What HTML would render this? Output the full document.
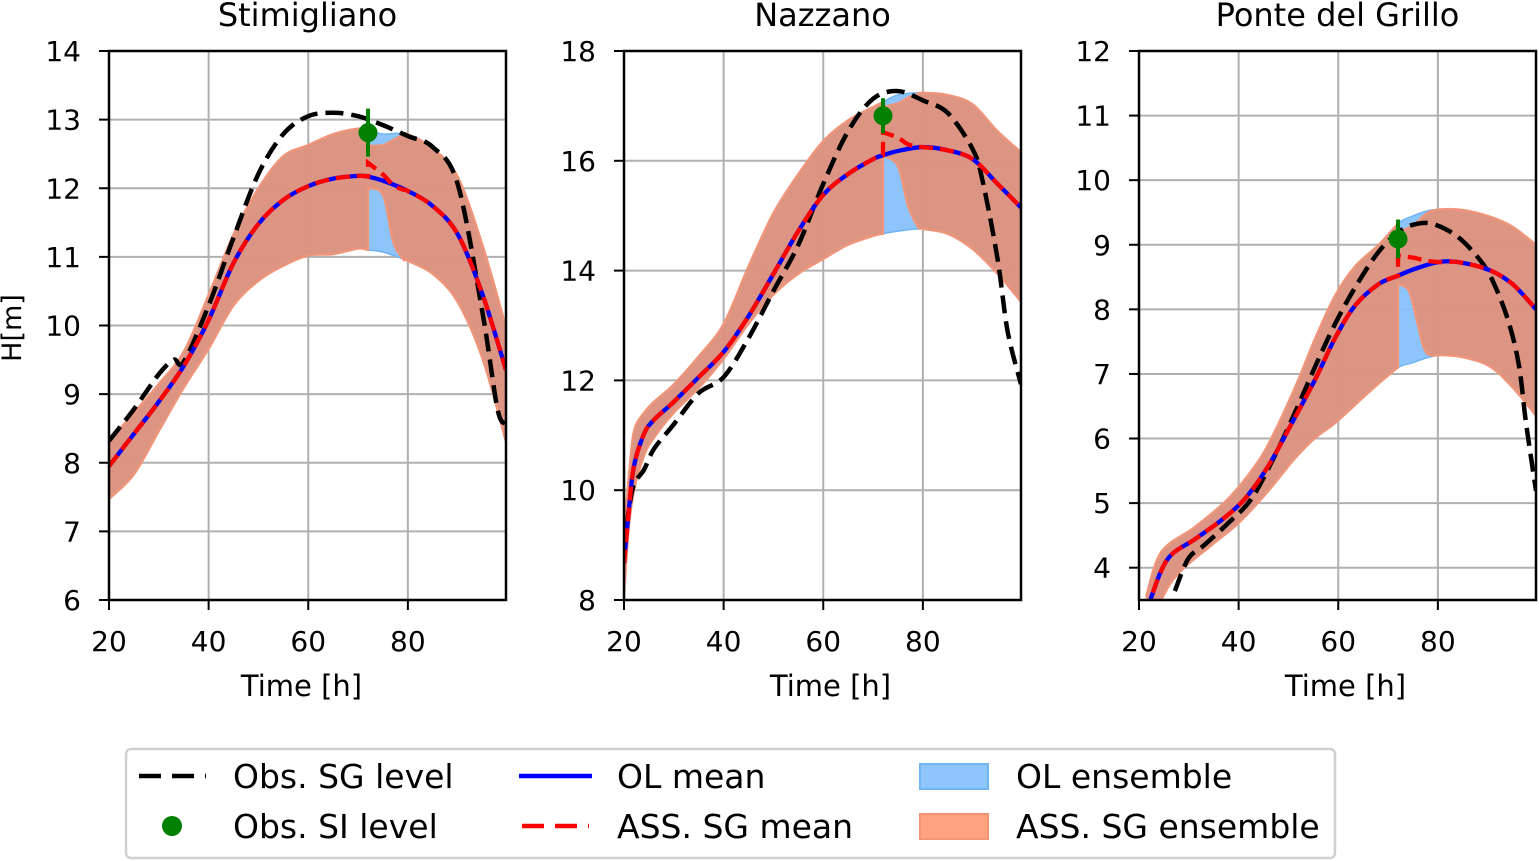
<!DOCTYPE html>
<html><head><meta charset="utf-8">
<style>
html,body{margin:0;padding:0;background:#fff;}
svg{display:block;font-family:"DejaVu Sans","Liberation Sans",sans-serif;}
</style></head>
<body>
<svg id="fig" width="1539" height="861" viewBox="0 0 1539 861" xmlns="http://www.w3.org/2000/svg">
<g id="panels"></g>
<text x="21" y="328" font-size="27" text-anchor="middle" transform="rotate(-90 21 328)">H[m]</text>
<g>
  <rect x="126" y="749" width="1209" height="109" rx="5" fill="#fff" stroke="#d0d0d0" stroke-width="2.5"/>
  <g>
    <line x1="139" y1="776" x2="206" y2="776" stroke="#000" stroke-width="4.5" stroke-dasharray="22 11"/>
    <text x="233" y="788" font-size="33">Obs. SG level</text>
  </g>
  <g>
    <circle cx="172" cy="826" r="10" fill="#008000"/>
    <text x="233" y="838" font-size="33">Obs. SI level</text>
  </g>
  <g>
    <line x1="519" y1="776" x2="592" y2="776" stroke="#0000ff" stroke-width="4.5"/>
    <text x="617" y="788" font-size="33">OL mean</text>
  </g>
  <g>
    <line x1="522" y1="826" x2="589" y2="826" stroke="#ff0000" stroke-width="4.5" stroke-dasharray="22 11"/>
    <text x="617" y="838" font-size="33">ASS. SG mean</text>
  </g>
  <g>
    <rect x="920" y="764" width="68" height="25" fill="#8ec5fb" stroke="#70b5f5" stroke-width="2"/>
    <text x="1016" y="788" font-size="33">OL ensemble</text>
  </g>
  <g>
    <rect x="920" y="814" width="68" height="25" fill="#ffa37f" stroke="#f39474" stroke-width="2"/>
    <text x="1016" y="838" font-size="33">ASS. SG ensemble</text>
  </g>
</g>
</svg>
<script>
// ---------------- Panel 1: Stimigliano ----------------
const p1_olT   = [20,25,30,35,40,45,50,55,60,65,70,72,75,80,85,90,95,99.7];
const p1_olMean= [7.95,8.42,8.89,9.41,10.08,10.91,11.48,11.83,12.03,12.14,12.18,12.17,12.11,11.96,11.74,11.33,10.45,9.35];
const p1_olUp  = [8.32,8.73,9.15,9.62,10.45,11.33,12.0,12.47,12.63,12.79,12.87,12.85,12.79,12.79,12.58,12.17,11.17,9.98];
const p1_olLo  = [7.47,7.83,8.46,9.09,9.66,10.29,10.65,10.87,11.02,11.04,11.12,11.1,11.07,10.94,10.75,10.34,9.51,8.3];
const p1_assT  = [72,75,77,79,80];
const p1_assMean=[12.37,12.2,12.05,11.98,11.96];
const p1_assUp = [12.62,12.63,12.7,12.78,12.79];
const p1_assLo = [12.0,11.9,11.23,10.97,10.94];
const p1_obsT  = [20,25,30,33,35,40,45,50,55,60,65,70,75,80,85,90,95,98,99.7];
const p1_obs   = [8.32,8.78,9.29,9.5,9.47,10.29,11.28,12.21,12.79,13.05,13.1,13.05,12.92,12.76,12.6,12.06,10.18,8.78,8.57];
const p1_si    = [72,12.81,0.35];

// ---------------- Panel 2: Nazzano ----------------
const p2_olT   = [20,21,22,24,26,30,35,40,45,50,55,60,65,70,72,75,80,85,90,95,99.7];
const p2_olMean= [8.67,9.66,10.44,11.02,11.28,11.61,12.06,12.52,13.17,13.94,14.72,15.38,15.76,16.03,16.1,16.18,16.25,16.19,16.03,15.58,15.15];
const p2_olUp  = [9.3,10.3,11.08,11.41,11.61,11.93,12.44,13.03,14.08,15.05,15.76,16.36,16.74,16.98,17.07,17.2,17.24,17.2,17.03,16.54,16.16];
const p2_olLo  = [8.09,9.33,9.98,10.62,10.95,11.41,11.86,12.39,13.03,13.56,13.94,14.21,14.47,14.63,14.67,14.72,14.76,14.67,14.39,13.94,13.43];
const p2_assT  = [72,75,77,79,80];
const p2_assMean=[16.52,16.42,16.3,16.26,16.25];
const p2_assUp = [16.98,17.05,17.15,17.22,17.24];
const p2_assLo = [16.09,15.9,15.18,14.8,14.76];
const p2_obsT  = [20.5,21,22,24,26,30,35,40,45,50,55,60,65,70,75,80,85,90,92,95,97,99.7];
const p2_obs   = [9.3,9.66,10.11,10.37,10.75,11.2,11.77,12.06,12.77,13.63,14.47,15.58,16.54,17.13,17.27,17.1,16.87,16.21,15.63,14.21,12.9,11.93];
const p2_si    = [72,16.82,0.32];

// ---------------- Panel 3: Ponte del Grillo ----------------
const p3_meanT = [21.8,22.5,25.8,31.2,36.6,41.3,46,50.7,55.4,59.4,63.4,68.1,72,74.8,79.9,84.2,90.3,95,99.7];
const p3_olMean= [3.3,3.55,4.14,4.44,4.74,5.07,5.58,6.24,6.92,7.56,8.06,8.39,8.52,8.61,8.73,8.73,8.61,8.39,8.0];
const p3_upT   = [21.5,24.5,31.2,37.9,43.3,46.6,51.3,55.4,59.4,63.4,68.1,72,74.8,78.2,80.9,84.9,90.3,95,99.7];
const p3_olUp  = [3.58,4.25,4.63,5.07,5.58,6.01,6.79,7.56,8.22,8.67,9.0,9.33,9.44,9.53,9.55,9.54,9.44,9.28,9.0];
const p3_loT   = [22,24.5,27.9,34.6,40,46,51.3,55.4,59.4,64.8,68.1,72,74.8,78.2,80.9,84.9,90.3,95,99.7];
const p3_olLo  = [3.0,3.5,3.91,4.35,4.69,5.19,5.69,6.01,6.24,6.62,6.85,7.1,7.17,7.26,7.29,7.26,7.12,6.79,6.35];
const p3_assT  = [72,75,78,80.9];
const p3_assMean=[8.83,8.8,8.75,8.73];
const p3_assUp = [9.2,9.3,9.5,9.55];
const p3_assLoT= [72,74.2,75.9,77.2,78.5,80.9];
const p3_assLo = [8.39,8.28,7.78,7.4,7.29,7.29];
const p3_obsT  = [27.2,29.9,33.1,37.9,42.6,47.3,51.3,55.4,59.4,63.4,68.1,72.5,76.2,79.5,84.2,88.9,91.6,94.3,96.3,97.7,99.7];
const p3_obs   = [3.64,4.14,4.35,4.69,5.07,5.74,6.4,7.12,7.78,8.34,8.89,9.22,9.33,9.31,9.11,8.72,8.34,7.78,7.12,6.24,5.19];
const p3_si    = [72,9.09,0.3];

const xTicks = [20,40,60,80];
const p1_yTicks = [6,7,8,9,10,11,12,13,14];
const p2_yTicks = [8,10,12,14,16,18];
const p3_yTicks = [4,5,6,7,8,9,10,11,12];
const titles = ["Stimigliano","Nazzano","Ponte del Grillo"];

const NS="http://www.w3.org/2000/svg";
const root=document.getElementById('panels');
function mk(tag,attrs,parent){const e=document.createElementNS(NS,tag);for(const k in attrs)e.setAttribute(k,attrs[k]);(parent||root).appendChild(e);return e;}
function zip(T,V){return T.map((t,i)=>[t,V[i]]);}
function crPath(pts,start){
  let d=(start||'M')+pts[0][0].toFixed(2)+','+pts[0][1].toFixed(2);
  for(let i=0;i<pts.length-1;i++){
    const p0=pts[Math.max(0,i-1)],p1=pts[i],p2=pts[i+1],p3=pts[Math.min(pts.length-1,i+2)];
    const c1=[p1[0]+(p2[0]-p0[0])/6,p1[1]+(p2[1]-p0[1])/6];
    const c2=[p2[0]-(p3[0]-p1[0])/6,p2[1]-(p3[1]-p1[1])/6];
    d+=' C'+c1[0].toFixed(2)+','+c1[1].toFixed(2)+' '+c2[0].toFixed(2)+','+c2[1].toFixed(2)+' '+p2[0].toFixed(2)+','+p2[1].toFixed(2);
  }
  return d;
}
function assSegments(olPts,assPts){
  const pre=olPts.filter(p=>p[0]<=assPts[0][0]);
  const end=assPts[assPts.length-1][0];
  const post=assPts.concat(olPts.filter(p=>p[0]>end));
  return [pre,post];
}

function panel(idx,cfg){
  const g=mk('g',{});
  
  
  const x0=cfg.x0,x1=cfg.x0+397,y0=51,y1=600,xmin=20,xmax=99.7;
  const sx=t=>x0+(t-xmin)/(xmax-xmin)*(x1-x0);
  const sy=v=>y1-(v-cfg.ymin)/(cfg.ymax-cfg.ymin)*(y1-y0);
  const px=pts=>pts.map(p=>[sx(p[0]),sy(p[1])]);
  const cid='clip'+idx;
  const defs=mk('defs',{},g);
  const cp=mk('clipPath',{id:cid},defs);
  mk('rect',{x:x0,y:y0,width:x1-x0,height:y1-y0},cp);
  const grid=mk('g',{},g);
  
  
  xTicks.forEach(t=>mk('line',{x1:sx(t),x2:sx(t),y1:y0,y2:y1,stroke:'#b0b0b0','stroke-width':2},grid));
  cfg.yTicks.forEach(v=>mk('line',{x1:x0,x2:x1,y1:sy(v),y2:sy(v),stroke:'#b0b0b0','stroke-width':2},grid));
  const data=mk('g',{'clip-path':'url(#'+cid+')'},g);
  const up=zip(cfg.upT,cfg.olUp), lo=zip(cfg.loT,cfg.olLo);
  const olBand=mk('path',{d:crPath(px(up))+' '+crPath(px(lo).reverse(),'L')+' Z',fill:'rgb(135,194,250)','fill-opacity':0.95,stroke:'#6fb3f3','stroke-width':1.5},data);
  
  
  const [uPre,uPost]=assSegments(up,zip(cfg.assT,cfg.assUp));
  const [lPre,lPost]=assSegments(lo,zip(cfg.assLoT,cfg.assLo));
  const dA=crPath(px(uPre))+' '+crPath(px(uPost),'L')+' '+crPath(px(lPost).reverse(),'L')+' '+crPath(px(lPre).reverse(),'L')+' Z';
  const assBand=mk('path',{d:dA,fill:'rgb(240,136,101)','fill-opacity':0.8,stroke:'#f0957a','stroke-width':2.2},data);
  
  
  const obs=mk('path',{d:crPath(px(zip(cfg.obsT,cfg.obs))),fill:'none',stroke:'#000','stroke-width':4.5,'stroke-dasharray':'18 8'},data);
  
  
  const mean=zip(cfg.meanT,cfg.olMean);
  const olm=mk('path',{d:crPath(px(mean)),fill:'none',stroke:'#0000ff','stroke-width':4.3},data);
  
  
  const [mPre,mPost]=assSegments(mean,zip(cfg.assT,cfg.assMean));
  const am=mk('path',{d:crPath(px(mPre))+' '+crPath(px(mPost),'L'),fill:'none',stroke:'#ff0000','stroke-width':4.3,'stroke-dasharray':'14 7'},data);
  
  
  const si=cfg.si;
  const eb=mk('line',{x1:sx(si[0]),x2:sx(si[0]),y1:sy(si[1]+si[2]),y2:sy(si[1]-si[2]),stroke:'#008000','stroke-width':4},g);
  
  
  const dot=mk('circle',{cx:sx(si[0]),cy:sy(si[1]),r:9.5,fill:'#008000'},g);
  
  
  const fr=mk('rect',{x:x0,y:y0,width:x1-x0,height:y1-y0,fill:'none',stroke:'#000','stroke-width':2.5},g);
  
  
  xTicks.forEach(t=>{
    mk('line',{x1:sx(t),x2:sx(t),y1:y1,y2:y1+10,stroke:'#000','stroke-width':2},g);
    const tx=mk('text',{x:sx(t),y:y1+51,'font-size':28,'text-anchor':'middle'},g);
    tx.textContent=t;
    
    
  });
  cfg.yTicks.forEach(v=>{
    mk('line',{x1:x0-10,x2:x0,y1:sy(v),y2:sy(v),stroke:'#000','stroke-width':2},g);
    const ty=mk('text',{x:x0-28,y:sy(v)+10,'font-size':28,'text-anchor':'end'},g);
    ty.textContent=v;
    
    
  });
  const xl=mk('text',{x:(x0+x1)/2+cfg.xlOff,y:696,'font-size':29,'text-anchor':'middle'},g);
  xl.textContent='Time [h]';
  
  
  const tt=mk('text',{x:(x0+x1)/2,y:26,'font-size':32,'text-anchor':'middle'},g);
  tt.textContent=titles[idx];
  
  
}

panel(0,{x0:109,xlOff:-6,ymin:6,ymax:14,yTicks:p1_yTicks,meanT:p1_olT,olMean:p1_olMean,upT:p1_olT,olUp:p1_olUp,loT:p1_olT,olLo:p1_olLo,assT:p1_assT,assMean:p1_assMean,assUp:p1_assUp,assLoT:p1_assT,assLo:p1_assLo,obsT:p1_obsT,obs:p1_obs,si:p1_si});
panel(1,{x0:624,xlOff:8,ymin:8,ymax:18,yTicks:p2_yTicks,meanT:p2_olT,olMean:p2_olMean,upT:p2_olT,olUp:p2_olUp,loT:p2_olT,olLo:p2_olLo,assT:p2_assT,assMean:p2_assMean,assUp:p2_assUp,assLoT:p2_assT,assLo:p2_assLo,obsT:p2_obsT,obs:p2_obs,si:p2_si});
panel(2,{x0:1139,xlOff:8,ymin:3.5,ymax:12,yTicks:p3_yTicks,meanT:p3_meanT,olMean:p3_olMean,upT:p3_upT,olUp:p3_olUp,loT:p3_loT,olLo:p3_olLo,assT:p3_assT,assMean:p3_assMean,assUp:p3_assUp,assLoT:p3_assLoT,assLo:p3_assLo,obsT:p3_obsT,obs:p3_obs,si:p3_si});
</script>
</body></html>
